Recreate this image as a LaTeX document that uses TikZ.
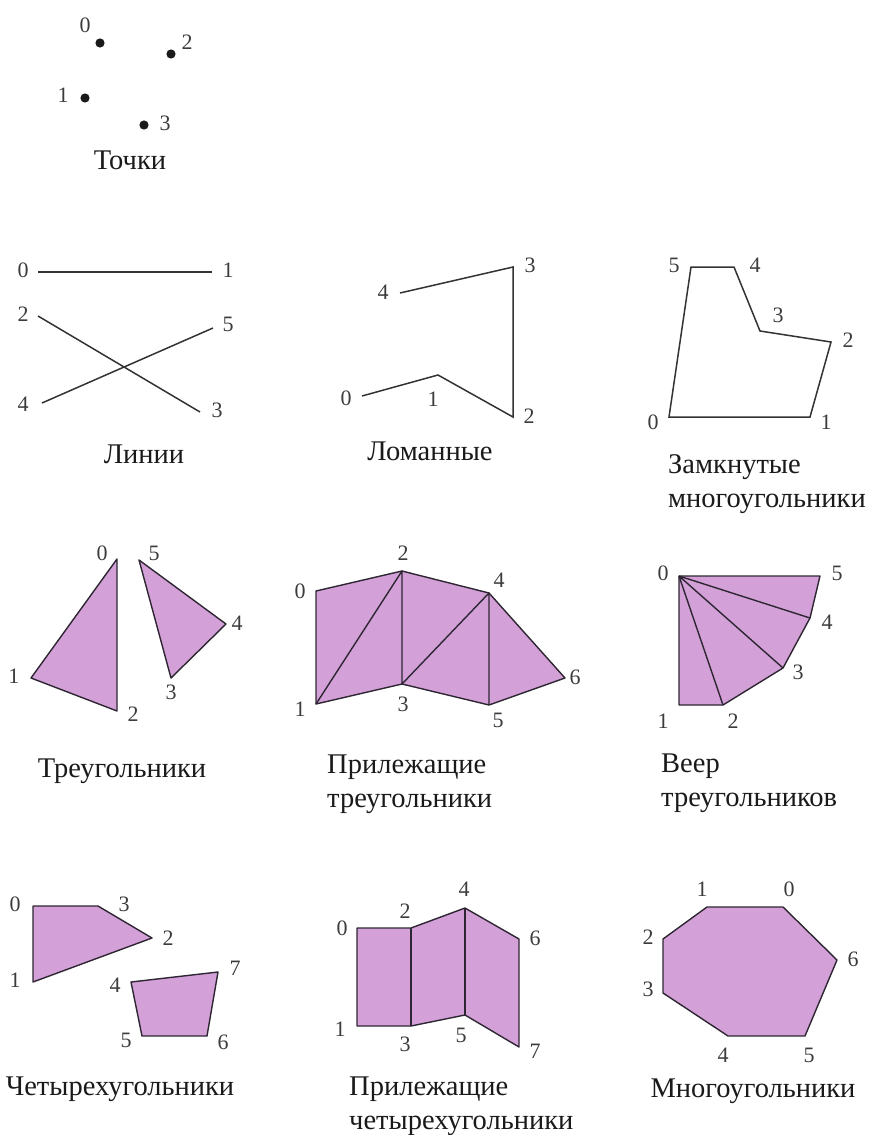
\documentclass[tikz,border=0pt]{standalone}
\usepackage{fontspec}
\setmainfont{Liberation Serif}
\usepackage{tikz}
\definecolor{PrimFill}{HTML}{D3A1D8}
\definecolor{PrimEdge}{HTML}{2E2632}
\definecolor{PrimLine}{HTML}{333333}
\definecolor{PrimInk}{HTML}{1A1A1A}
\tikzset{
  vnum/.style={font=\fontsize{22}{24}\selectfont, text=PrimInk!85, inner sep=0pt},
  caption/.style={font=\fontsize{28.5}{34}\selectfont, text=PrimInk, inner sep=0pt},
  primline/.style={draw=PrimLine, line width=1.5pt},
  primface/.style={draw=PrimEdge, fill=PrimFill, line width=1.4pt, line join=round},
  primdot/.style={fill=PrimInk, draw=none}
}

\begin{document}
\begin{tikzpicture}[x=1pt, y=-1pt]
\useasboundingbox (0,0) rectangle (870,1135);
% points
\coordinate (pt0) at (100,43);
\coordinate (pt1) at (85,98);
\coordinate (pt2) at (171,54);
\coordinate (pt3) at (144,125);
\foreach \p in {pt0,pt1,pt2,pt3} \fill[primdot] (\p) circle (4.6);
\node[vnum] (pt0l) at (85,25) {0};
\node[vnum] (pt1l) at (63,95) {1};
\node[vnum] (pt2l) at (187,42) {2};
\node[vnum] (pt3l) at (165,123) {3};
\node[caption, anchor=base] (ptcap) at (130,169) {Точки};

% lines
\coordinate (ln0) at (38,272);
\coordinate (ln1) at (212,272);
\coordinate (ln2) at (38,316);
\coordinate (ln3) at (200,412);
\coordinate (ln4) at (42,403);
\coordinate (ln5) at (213,328);
\draw[primline] (ln0) -- (ln1);
\draw[primline] (ln2) -- (ln3);
\draw[primline] (ln4) -- (ln5);
\node[vnum] (ln0l) at (23,270) {0};
\node[vnum] (ln1l) at (228,270) {1};
\node[vnum] (ln2l) at (23,314) {2};
\node[vnum] (ln3l) at (217,410) {3};
\node[vnum] (ln4l) at (23,404) {4};
\node[vnum] (ln5l) at (228,324) {5};
\node[caption, anchor=base] (lncap) at (144,463) {Линии};

% line strip
\coordinate (ls0) at (362,396);
\coordinate (ls1) at (438,375);
\coordinate (ls2) at (513,417);
\coordinate (ls3) at (513,267);
\coordinate (ls4) at (400,293);
\draw[primline, line join=miter] (ls0) -- (ls1) -- (ls2) -- (ls3) -- (ls4);
\node[vnum] (ls0l) at (346,398) {0};
\node[vnum] (ls1l) at (433,399) {1};
\node[vnum] (ls2l) at (529,416) {2};
\node[vnum] (ls3l) at (530,265) {3};
\node[vnum] (ls4l) at (383,292) {4};
\node[caption, anchor=base] (lscap) at (430,460) {Ломанные};

% line loop
\coordinate (ll0) at (669,417);
\coordinate (ll1) at (810,417);
\coordinate (ll2) at (831,342);
\coordinate (ll3) at (760,331);
\coordinate (ll4) at (734,267);
\coordinate (ll5) at (691,267);
\draw[primline] (ll0) -- (ll1) -- (ll2) -- (ll3) -- (ll4) -- (ll5) -- cycle;
\node[vnum] (ll0l) at (653,422) {0};
\node[vnum] (ll1l) at (826,422) {1};
\node[vnum] (ll2l) at (848,340) {2};
\node[vnum] (ll3l) at (778,315) {3};
\node[vnum] (ll4l) at (755,265) {4};
\node[vnum] (ll5l) at (674,265) {5};
\node[caption, anchor=base west, align=left] (llcap) at (668,507) {Замкнутые\\многоугольники};

% triangles
\coordinate (tr0) at (117,559);
\coordinate (tr1) at (31,678);
\coordinate (tr2) at (117,711);
\coordinate (tr3) at (171,678);
\coordinate (tr4) at (226,624);
\coordinate (tr5) at (139,560);
\draw[primface] (tr0) -- (tr1) -- (tr2) -- cycle;
\draw[primface] (tr3) -- (tr4) -- (tr5) -- cycle;
\node[vnum] (tr0l) at (102,553) {0};
\node[vnum] (tr1l) at (14,676) {1};
\node[vnum] (tr2l) at (133,714) {2};
\node[vnum] (tr3l) at (171,692) {3};
\node[vnum] (tr4l) at (237,623) {4};
\node[vnum] (tr5l) at (154,553) {5};
\node[caption, anchor=base] (trcap) at (122,777) {Треугольники};

% triangle strip
\coordinate (ts0) at (316,591);
\coordinate (ts1) at (316,704);
\coordinate (ts2) at (402,571);
\coordinate (ts3) at (402,684);
\coordinate (ts4) at (489,593);
\coordinate (ts5) at (489,705);
\coordinate (ts6) at (565,678);
\draw[primface] (ts0) -- (ts2) -- (ts4) -- (ts6) -- (ts5) -- (ts3) -- (ts1) -- cycle;
\draw[primface, fill=none] (ts1) -- (ts2) -- (ts3) -- (ts4) -- (ts5);
\node[vnum] (ts0l) at (300,591) {0};
\node[vnum] (ts1l) at (300,709) {1};
\node[vnum] (ts2l) at (403,553) {2};
\node[vnum] (ts3l) at (403,704) {3};
\node[vnum] (ts4l) at (499,580) {4};
\node[vnum] (ts5l) at (498,720) {5};
\node[vnum] (ts6l) at (575,677) {6};
\node[caption, anchor=base west, align=left] (tscap) at (327,807) {Прилежащие\\треугольники};

% triangle fan
\coordinate (tf0) at (679,576);
\coordinate (tf1) at (679,705);
\coordinate (tf2) at (723,705);
\coordinate (tf3) at (783,668);
\coordinate (tf4) at (810,618);
\coordinate (tf5) at (820,576);
\draw[primface] (tf0) -- (tf1) -- (tf2) -- (tf3) -- (tf4) -- (tf5) -- cycle;
\draw[primface, fill=none] (tf0) -- (tf2) (tf0) -- (tf3) (tf0) -- (tf4);
\node[vnum] (tf0l) at (663,573) {0};
\node[vnum] (tf1l) at (663,721) {1};
\node[vnum] (tf2l) at (733,721) {2};
\node[vnum] (tf3l) at (798,672) {3};
\node[vnum] (tf4l) at (827,622) {4};
\node[vnum] (tf5l) at (837,573) {5};
\node[caption, anchor=base west, align=left] (tfcap) at (661,806) {Веер\\треугольников};

% quads
\coordinate (qd0) at (33,906);
\coordinate (qd1) at (33,982);
\coordinate (qd2) at (152,938);
\coordinate (qd3) at (98,906);
\coordinate (qd4) at (131,982);
\coordinate (qd5) at (142,1036);
\coordinate (qd6) at (207,1036);
\coordinate (qd7) at (218,972);
\draw[primface] (qd0) -- (qd1) -- (qd2) -- (qd3) -- cycle;
\draw[primface] (qd4) -- (qd5) -- (qd6) -- (qd7) -- cycle;
\node[vnum] (qd0l) at (15,904) {0};
\node[vnum] (qd1l) at (15,980) {1};
\node[vnum] (qd2l) at (168,938) {2};
\node[vnum] (qd3l) at (124,904) {3};
\node[vnum] (qd4l) at (115,985) {4};
\node[vnum] (qd5l) at (126,1040) {5};
\node[vnum] (qd6l) at (223,1042) {6};
\node[vnum] (qd7l) at (235,968) {7};
\node[caption, anchor=base] (qdcap) at (120,1095) {Четырехугольники};

% quad strip
\coordinate (qs0) at (357,928);
\coordinate (qs1) at (357,1026);
\coordinate (qs2) at (411,928);
\coordinate (qs3) at (411,1026);
\coordinate (qs4) at (465,908);
\coordinate (qs5) at (465,1015);
\coordinate (qs6) at (519,939);
\coordinate (qs7) at (519,1047);
\draw[primface] (qs0) -- (qs2) -- (qs4) -- (qs6) -- (qs7) -- (qs5) -- (qs3) -- (qs1) -- cycle;
\draw[primface, fill=none] (qs2) -- (qs3) (qs4) -- (qs5);
\node[vnum] (qs0l) at (342,928) {0};
\node[vnum] (qs1l) at (340,1029) {1};
\node[vnum] (qs2l) at (405,911) {2};
\node[vnum] (qs3l) at (405,1044) {3};
\node[vnum] (qs4l) at (464,889) {4};
\node[vnum] (qs5l) at (461,1035) {5};
\node[vnum] (qs6l) at (535,938) {6};
\node[vnum] (qs7l) at (535,1051) {7};
\node[caption, anchor=base west, align=left] (qscap) at (349,1129) {Прилежащие\\четырехугольники};

% polygon
\coordinate (pg0) at (783,907);
\coordinate (pg1) at (707,907);
\coordinate (pg2) at (663,939);
\coordinate (pg3) at (663,993);
\coordinate (pg4) at (728,1036);
\coordinate (pg5) at (805,1036);
\coordinate (pg6) at (837,960);
\draw[primface] (pg0) -- (pg1) -- (pg2) -- (pg3) -- (pg4) -- (pg5) -- (pg6) -- cycle;
\node[vnum] (pg0l) at (789,889) {0};
\node[vnum] (pg1l) at (702,889) {1};
\node[vnum] (pg2l) at (648,937) {2};
\node[vnum] (pg3l) at (648,989) {3};
\node[vnum] (pg4l) at (723,1055) {4};
\node[vnum] (pg5l) at (809,1055) {5};
\node[vnum] (pg6l) at (853,959) {6};
\node[caption, anchor=base] (pgcap) at (753,1097) {Многоугольники};
\end{tikzpicture}
\end{document}
